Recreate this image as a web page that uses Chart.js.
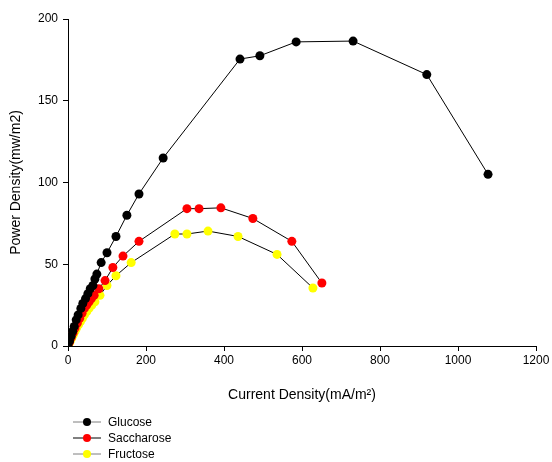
<!DOCTYPE html>
<html>
<head>
<meta charset="utf-8">
<script src="https://cdn.jsdelivr.net/npm/chart.js@4.4.1/dist/chart.umd.min.js"></script>
<style>
  html, body { margin: 0; padding: 0; background: #fff; }
  #wrap { width: 552px; height: 462px; }
</style>
</head>
<body>
<div id="wrap"><canvas id="plot1" width="552" height="462"></canvas></div>
<script>
// valores (x = densidad de corriente, y = densidad de potencia)
let glucoseX = [0, 4, 8, 12, 16, 21, 26, 33, 38, 45, 51, 57, 64, 69, 74, 85, 100, 123, 151, 182, 244, 441, 492, 585, 731, 920, 1077];
let glucoseY = [0, 3, 6, 9, 12, 16, 19, 23, 26, 29, 32, 35, 37, 41, 44, 51, 57, 67, 80, 93, 115, 175.5, 177.5, 186, 186.5, 166, 105];

let saccharoseX = [0, 4, 8, 13, 18, 24, 30, 36, 42, 48, 54, 60, 67, 79, 95, 115, 141, 182, 305, 336, 392, 474, 574, 651];
let saccharoseY = [0, 2.5, 5, 8, 11, 14, 17, 20, 23, 25, 27, 29, 31, 35, 40, 48, 55, 64, 84, 84, 84.5, 78, 64, 38.5];

let fructoseX = [0, 3, 6, 10, 14, 18, 22, 27, 32, 37, 42, 48, 54, 61, 69, 82, 100, 123, 162, 274, 305, 359, 436, 536, 628];
let fructoseY = [0, 1.5, 3, 5, 7, 9, 11, 13, 15, 17, 19, 21, 23, 25, 27, 31, 37, 43, 51, 68.5, 68.5, 70.3, 67, 56, 35.5];

let seriesNames = ["Glucose", "Saccharose", "Fructose"];
let xTicks = [0, 200, 400, 600, 800, 1000, 1200];
let yTicks = [0, 50, 100, 150, 200];

let toPoints = (xs, ys) => xs.map((x, i) => ({ x: x, y: ys[i] }));

let colores = ["#000000", "#ff0000", "#ffff00"];
let lineaLeyenda = ["#7f7f7f", "#000000", "#7f7f7f"];
let fuente = "'Liberation Sans', Arial, sans-serif";

// leyenda vertical abajo a la izquierda
let leyendaPlugin = {
  id: "leyenda",
  afterDraw: (chart) => {
    let ctx = chart.ctx;
    let filas = [422, 438, 454];
    ctx.save();
    chart.data.datasets.forEach((ds, i) => {
      let y = filas[i];
      ctx.strokeStyle = lineaLeyenda[i];
      ctx.lineWidth = 1;
      ctx.beginPath();
      ctx.moveTo(73, y);
      ctx.lineTo(101, y);
      ctx.stroke();
      ctx.fillStyle = colores[i];
      ctx.beginPath();
      ctx.arc(87, y, 4, 0, Math.PI * 2);
      ctx.fill();
      ctx.fillStyle = "#000";
      ctx.font = "12px " + fuente;
      ctx.textBaseline = "middle";
      ctx.textAlign = "left";
      ctx.fillText(ds.label, 108, y + 1);
    });
    ctx.restore();
  },
};

let datos = [
  toPoints(glucoseX, glucoseY),
  toPoints(saccharoseX, saccharoseY),
  toPoints(fructoseX, fructoseY),
];

let config = {
  type: "line",
  data: {
    datasets: seriesNames.map((name, i) => ({
      label: name,
      data: datos[i],
      borderColor: "#000",
      borderWidth: 1,
      tension: 0,
      pointRadius: 4.5,
      pointHoverRadius: 4.5,
      pointBackgroundColor: colores[i],
      pointBorderColor: colores[i],
      pointBorderWidth: 0,
    })),
  },
  options: {
    responsive: false,
    animation: false,
    events: [],
    layout: { padding: { top: 19, right: 16, bottom: 58, left: 0 } },
    plugins: {
      legend: { display: false },
      tooltip: { enabled: false },
    },
    scales: {
      x: {
        type: "linear",
        min: 0,
        max: 1200,
        afterBuildTicks: (scale) => { scale.ticks = xTicks.map((v) => ({ value: v })); },
        afterFit: (scale) => { scale.height = 58; },
        border: { display: true, color: "#000", width: 1 },
        grid: { drawOnChartArea: false, drawTicks: true, tickLength: 5, color: "#000" },
        ticks: {
          color: "#000",
          padding: 2,
          font: { family: fuente, size: 12 },
          callback: (v) => String(v),
        },
        title: {
          display: true,
          text: "Current Density(mA/m²)",
          color: "#000",
          font: { family: fuente, size: 14 },
          padding: { top: 0, bottom: 0 },
        },
      },
      y: {
        type: "linear",
        min: 0,
        max: 200,
        afterBuildTicks: (scale) => { scale.ticks = yTicks.map((v) => ({ value: v })); },
        afterFit: (scale) => { scale.width = 68; },
        border: { display: true, color: "#000", width: 1 },
        grid: { drawOnChartArea: false, drawTicks: true, tickLength: 5, color: "#000" },
        ticks: {
          color: "#000",
          padding: 5,
          font: { family: fuente, size: 12 },
          callback: (v) => String(v),
        },
        title: {
          display: true,
          text: "Power Density(mw/m2)",
          color: "#000",
          font: { family: fuente, size: 14 },
          padding: { top: 8, bottom: 0 },
        },
      },
    },
  },
  plugins: [leyendaPlugin],
};

let plotRef = document.getElementById("plot1");
let chart1 = new Chart(plotRef, config);
</script>
</body>
</html>
